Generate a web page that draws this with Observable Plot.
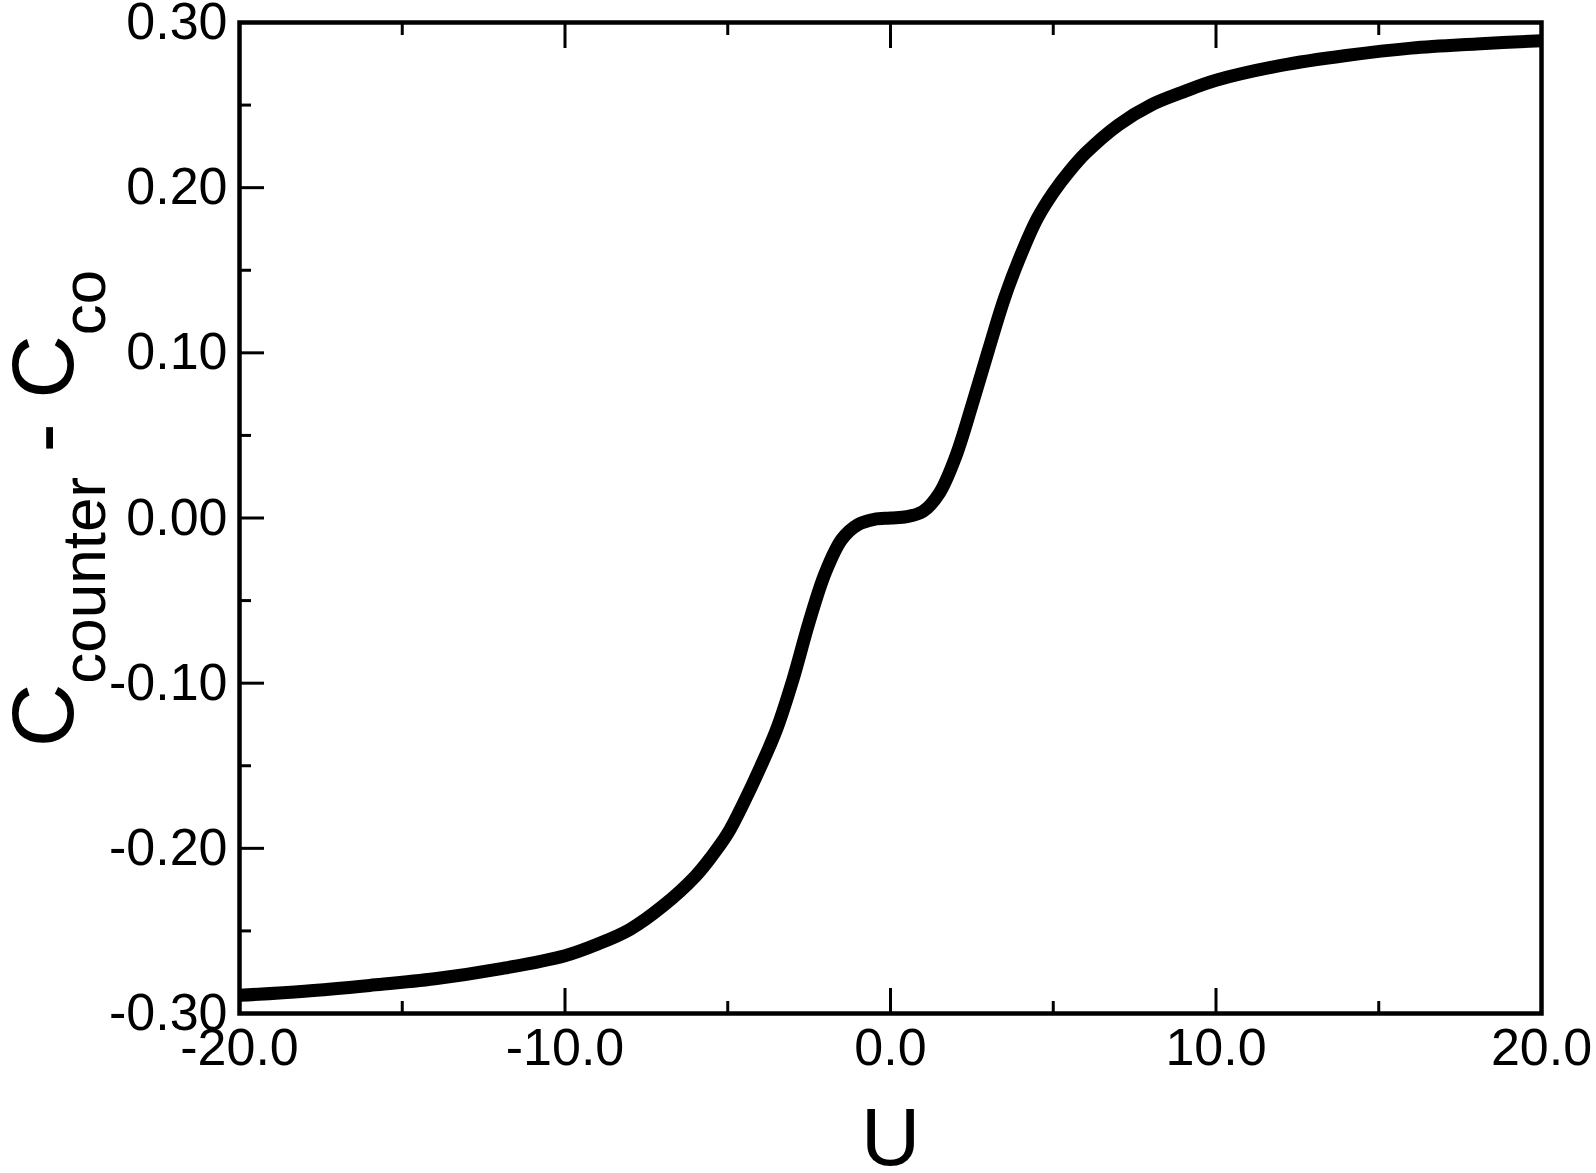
<!DOCTYPE html>
<html>
<head>
<meta charset="utf-8">
<script src="https://cdn.jsdelivr.net/npm/d3@7"></script>
<script src="https://cdn.jsdelivr.net/npm/@observablehq/plot@0.6"></script>
<style>
  html, body { margin: 0; padding: 0; background: #fff; }
  #chart { width: 1596px; height: 1173px; }
</style>
</head>
<body>
<div id="chart"></div>
<script>
// ---- data ----
const U = [-20, -18, -16, -14, -12, -10, -9, -8, -7, -6, -5.5, -5, -4.5, -4, -3.5, -3, -2.5, -2, -1.5, -1, -0.5,
           0, 0.5, 1, 1.5, 2, 2.5, 3, 3.5, 4, 4.5, 5, 5.5, 6, 7, 8, 9, 10, 12, 14, 16, 18, 20];
const dC = [-0.289, -0.2865, -0.283, -0.279, -0.273, -0.265, -0.258, -0.249, -0.235, -0.217, -0.205, -0.191, -0.172,
            -0.151, -0.128, -0.098, -0.063, -0.033, -0.013, -0.004, -0.0008,
            0.0, 0.0008, 0.004, 0.015, 0.037, 0.068, 0.101, 0.133, 0.159, 0.181, 0.197, 0.210, 0.221, 0.238,
            0.250, 0.258, 0.265, 0.274, 0.280, 0.2845, 0.287, 0.289];

const xMajorTicks = [-20, -10, 0, 10, 20];
const xMinorTicks = [-15, -5, 5, 15];
const yMajorTicks = [-0.3, -0.2, -0.1, 0, 0.1, 0.2, 0.3];
const yMinorTicks = [-0.25, -0.15, -0.05, 0.05, 0.15, 0.25];

const xLabel = "U";
const yLabelParts = [["C", false], ["counter", true], [" - C", false], ["co", true]];

const rows = U.map((u, i) => ({U: u, d: dC[i]}));

const FONT = "'Liberation Sans', Arial, Helvetica, sans-serif";

const chart = Plot.plot({
  width: 1596,
  height: 1173,
  marginLeft: 239,
  marginRight: 55,
  marginTop: 22,
  marginBottom: 160,
  style: {fontFamily: FONT, background: "#fff", color: "#000", overflow: "visible"},
  x: {domain: [-20, 20]},
  y: {domain: [-0.3, 0.3]},
  marks: [
    Plot.line(rows, {x: "U", y: "d", stroke: "#000", strokeWidth: 13, curve: "catmull-rom", strokeLinecap: "butt"}),
    Plot.frame({stroke: "#000", strokeWidth: 4.5}),
    // bottom axis
    Plot.axisX(xMajorTicks, {anchor: "bottom", tickSize: -25, tickPadding: 40, strokeWidth: 3,
      tickFormat: d => d.toFixed(1), fontSize: 52, label: null}),
    Plot.axisX(xMinorTicks, {anchor: "bottom", tickSize: -12, strokeWidth: 3, tickFormat: () => "", label: null}),
    // top axis (ticks only)
    Plot.axisX(xMajorTicks, {anchor: "top", tickSize: -25, strokeWidth: 3, tickFormat: () => "", label: null}),
    Plot.axisX(xMinorTicks, {anchor: "top", tickSize: -12, strokeWidth: 3, tickFormat: () => "", label: null}),
    // left axis
    Plot.axisY(yMajorTicks, {anchor: "left", tickSize: -25, tickPadding: 37, strokeWidth: 3,
      tickFormat: d => d.toFixed(2), fontSize: 52, label: null}),
    Plot.axisY(yMinorTicks, {anchor: "left", tickSize: -12, strokeWidth: 3, tickFormat: () => "", label: null}),
    // x axis title
    Plot.text([xLabel], {frameAnchor: "bottom", dy: 151, fontSize: 82, lineAnchor: "bottom", fill: "#000"})
  ]
});

document.getElementById("chart").appendChild(chart);

// y axis title with subscripts
const svg = d3.select(chart);
const yr = chart.scale("y").range;
const cy = (yr[0] + yr[1]) / 2 - 9;
const t = svg.append("text")
  .attr("transform", `translate(73,${cy}) rotate(-90)`)
  .attr("text-anchor", "middle")
  .attr("font-family", FONT)
  .attr("font-size", 88)
  .attr("fill", "#000");
let shifted = false;
yLabelParts.forEach(([txt, sub]) => {
  const ts = t.append("tspan").text(txt).attr("xml:space", "preserve");
  if (sub) { ts.attr("font-size", 62).attr("dy", shifted ? 0 : 32); shifted = true; }
  else { ts.attr("dy", shifted ? -32 : 0); shifted = false; }
});
t.style("white-space", "pre");
</script>
</body>
</html>
